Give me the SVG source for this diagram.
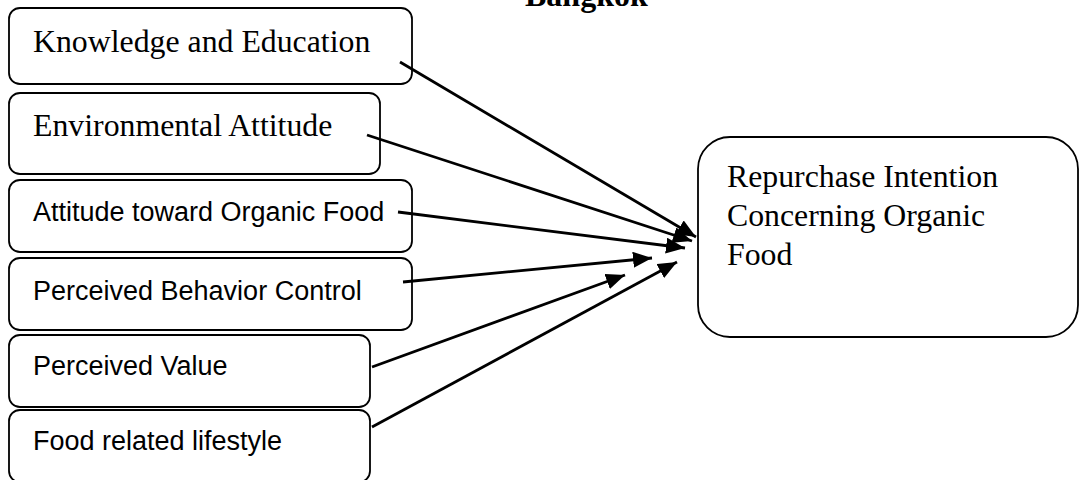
<svg xmlns="http://www.w3.org/2000/svg" width="1080" height="480" viewBox="0 0 1080 480">
  <style>
    .box { fill: #ffffff; stroke: #000000; stroke-width: 1.8; }
    .serif { font-family: "Liberation Serif", "Times New Roman", serif; font-size: 31.8px; fill: #000000; }
    .sans { font-family: "Liberation Sans", Arial, sans-serif; font-size: 27px; fill: #000000; }
    .title { font-family: "Liberation Serif", "Times New Roman", serif; font-size: 32px; font-weight: bold; fill: #000000; }
    .link { stroke: #000000; stroke-width: 2.8; fill: none; marker-end: url(#arrow); }
  </style>
  <defs>
    <marker id="arrow" markerUnits="userSpaceOnUse" markerWidth="20" markerHeight="16" refX="19" refY="8" orient="auto">
      <path d="M0,0 L19,8 L0,16 Z" fill="#000000"/>
    </marker>
  </defs>

  <rect width="1080" height="480" fill="#ffffff"/>

  <!-- heading, partly cut by the top edge -->
  <text class="title" x="525" y="6">Bangkok</text>

  <g id="knowledge-education">
    <rect class="box" x="9" y="8" width="403" height="76" rx="11"/>
    <text class="serif" x="33" y="52">Knowledge and Education</text>
  </g>

  <g id="environmental-attitude">
    <rect class="box" x="9" y="93" width="371" height="81" rx="11"/>
    <text class="serif" x="33" y="136">Environmental Attitude</text>
  </g>

  <g id="attitude-organic-food">
    <rect class="box" x="9" y="180" width="403" height="72" rx="11"/>
    <text class="sans" x="33" y="221">Attitude toward Organic Food</text>
  </g>

  <g id="perceived-behavior-control">
    <rect class="box" x="9" y="258" width="403" height="72" rx="11"/>
    <text class="sans" x="33" y="300">Perceived Behavior Control</text>
  </g>

  <g id="perceived-value">
    <rect class="box" x="9" y="335" width="361" height="72" rx="11"/>
    <text class="sans" x="33" y="375">Perceived Value</text>
  </g>

  <g id="food-lifestyle">
    <rect class="box" x="9" y="410" width="361" height="72" rx="11"/>
    <text class="sans" x="33" y="450">Food related lifestyle</text>
  </g>

  <g id="repurchase-intention">
    <rect class="box" x="698" y="137" width="380" height="200" rx="32"/>
    <text class="serif" x="727" y="187">Repurchase Intention</text>
    <text class="serif" x="727" y="226">Concerning Organic</text>
    <text class="serif" x="727" y="265">Food</text>
  </g>

  <g id="connectors">
    <line class="link" x1="400" y1="62" x2="696" y2="237"/>
    <line class="link" x1="367" y1="135" x2="692" y2="241"/>
    <line class="link" x1="398" y1="212" x2="685" y2="248"/>
    <line class="link" x1="403" y1="282" x2="652" y2="258"/>
    <line class="link" x1="372" y1="367" x2="625" y2="275"/>
    <line class="link" x1="372" y1="427" x2="677" y2="262"/>
  </g>
</svg>
